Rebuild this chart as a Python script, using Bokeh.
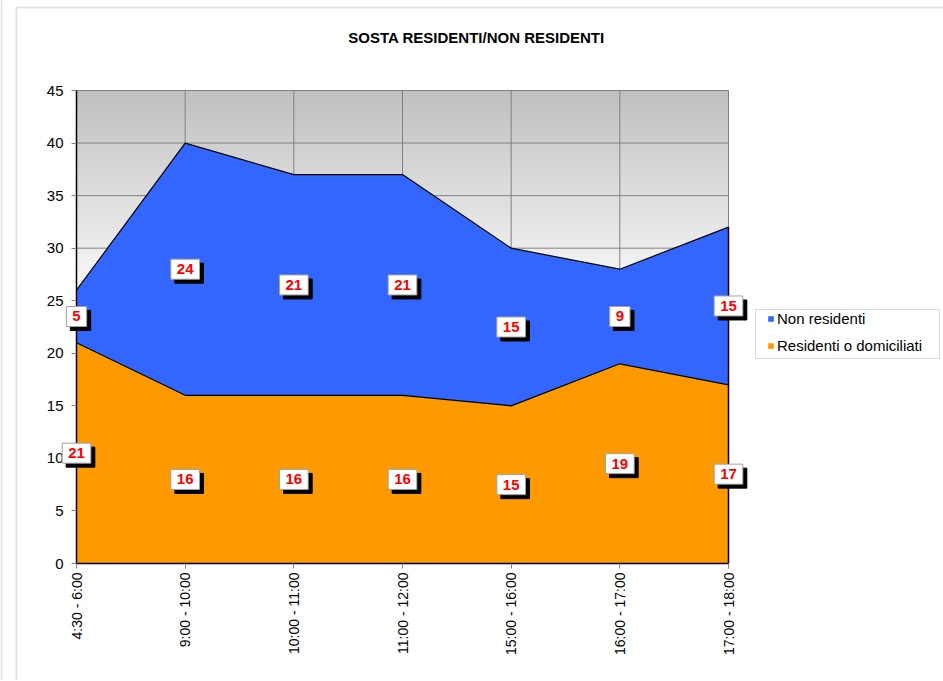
import numpy as np
from bokeh.plotting import figure
from bokeh.models import (ColumnDataSource, FixedTicker, Label, Legend,
                          LegendItem, Range1d, BoxAnnotation)
from bokeh.embed import file_html
from bokeh.resources import INLINE

categories = ["4:30 - 6:00", "9:00 - 10:00", "10:00 - 11:00", "11:00 - 12:00",
              "15:00 - 16:00", "16:00 - 17:00", "17:00 - 18:00"]
residenti = [21, 16, 16, 16, 15, 19, 17]
non_residenti = [5, 24, 21, 21, 15, 9, 15]
y_ticks = [0, 5, 10, 15, 20, 25, 30, 35, 40, 45]

ORANGE = "#FF9900"
BLUE = "#3366FF"
FONT = "Liberation Sans"

# ---- layout (pixels) ----
W, H = 943, 680
PX0, PX1 = 76, 728      # plot area left/right on canvas
PY0, PY1 = 90, 563      # plot area top/bottom on canvas

x = list(range(len(categories)))
totale = [r + n for r, n in zip(residenti, non_residenti)]
src = ColumnDataSource(dict(x=x, res=residenti, non=non_residenti, tot=totale))

ppx = (PX1 - PX0) / (x[-1] - x[0])
ppy = (PY1 - PY0) / (y_ticks[-1] - y_ticks[0])
xr = Range1d(x[0] - PX0 / ppx, x[-1] + (W - PX1) / ppx)
yr = Range1d(y_ticks[0] - (H - PY1) / ppy, y_ticks[-1] + PY0 / ppy)

p = figure(width=W, height=H, x_range=xr, y_range=yr, title=None,
           output_backend="svg", toolbar_location=None, min_border=0)
p.background_fill_color = "white"
p.border_fill_color = "white"
p.outline_line_color = None
p.xgrid.visible = False
p.ygrid.visible = False

# gradient background (grey at top, fading to white)
N = 450
ys = (np.arange(N) + 0.5) * y_ticks[-1] / N
g = np.clip(192 + (y_ticks[-1] - ys) * (63 / 21.0), 0, 255).astype(np.uint8)
img = np.zeros((N, 1), dtype=np.uint32)
v = img.view(dtype=np.uint8).reshape((N, 1, 4))
v[:, 0, 0] = g
v[:, 0, 1] = g
v[:, 0, 2] = g
v[:, 0, 3] = 255
p.image_rgba(image=[img], x=x[0], y=y_ticks[0], dw=x[-1] - x[0],
             dh=y_ticks[-1] - y_ticks[0], level="image")

# grid lines limited to the plot area
GRID = "#808080"
p.segment(x0=[x[0]] * len(y_ticks), x1=[x[-1]] * len(y_ticks), y0=y_ticks, y1=y_ticks,
          line_color=GRID, line_width=1)
p.segment(x0=x, x1=x, y0=[y_ticks[0]] * len(x), y1=[y_ticks[-1]] * len(x),
          line_color=GRID, line_width=1)

areas = p.varea_stack(["res", "non"], x="x", color=[ORANGE, BLUE], source=src)
p.line("x", "res", source=src, line_color="black", line_width=1.2)
p.line("x", "tot", source=src, line_color="black", line_width=1.2)
p.segment(x0=[x[-1]], y0=[0], x1=[x[-1]], y1=[totale[-1]], line_color="black", line_width=1.5)

# axes (fixed at the plot area's edges)
p.xaxis.fixed_location = y_ticks[0]
p.yaxis.fixed_location = x[0]
p.xaxis.bounds = (x[0], x[-1])
p.yaxis.bounds = (y_ticks[0], y_ticks[-1])
p.xaxis.ticker = FixedTicker(ticks=x)
p.xaxis.major_label_overrides = {i: c for i, c in zip(x, categories)}
p.xaxis.major_label_orientation = np.pi / 2
p.yaxis.ticker = FixedTicker(ticks=y_ticks)
for ax in (p.xaxis[0], p.yaxis[0]):
    ax.axis_line_color = "black"
    ax.axis_line_width = 1.5
    ax.major_tick_line_color = "#808080"
    ax.major_tick_out = 5
    ax.major_tick_in = 0
    ax.minor_tick_line_color = None
    ax.major_label_text_font = FONT
    ax.major_label_text_color = "black"
p.xaxis.major_label_text_font_size = "14px"
p.yaxis.major_label_text_font_size = "15px"
p.xaxis.major_label_standoff = 4
p.yaxis.major_label_standoff = 8

# data labels with shadow
pad = dict(left=6, right=6, top=5, bottom=5)
def add_label(xv, yv, txt):
    common = dict(x=xv, y=yv, text=txt, text_align="center", text_baseline="middle",
                  text_font=FONT, text_font_size="15px", text_font_style="bold",
                  padding=pad)
    p.add_layout(Label(x_offset=4, y_offset=-4, text_color="black",
                       background_fill_color="black", border_line_color="black", **common))
    p.add_layout(Label(text_color="#FF0000", background_fill_color="white",
                       border_line_color="#A0A0A0", **common))

for i in x:
    add_label(x[i], residenti[i] / 2, str(residenti[i]))
    add_label(x[i], residenti[i] + non_residenti[i] / 2, str(non_residenti[i]))

# title
p.add_layout(Label(x=476, y=H - 37, x_units="screen", y_units="screen",
                   text="SOSTA RESIDENTI/NON RESIDENTI", text_align="center",
                   text_baseline="middle", text_font=FONT, text_font_size="15px",
                   text_font_style="bold", text_color="black"))

# chart frame lines
p.add_layout(BoxAnnotation(left=16, right=W + 50, bottom=-50, top=H - 7,
                           left_units="screen", right_units="screen",
                           bottom_units="screen", top_units="screen",
                           fill_color=None, fill_alpha=0, line_color="#A6A6A6", line_width=2))
p.add_layout(BoxAnnotation(left=-50, right=1, bottom=-50, top=H + 50,
                           left_units="screen", right_units="screen",
                           bottom_units="screen", top_units="screen",
                           fill_color=None, fill_alpha=0, line_color="#A6A6A6", line_width=2))

# legend
p.add_layout(BoxAnnotation(left=755, right=939, bottom=H - 358, top=H - 309,
                           left_units="screen", right_units="screen",
                           bottom_units="screen", top_units="screen",
                           fill_color="white", fill_alpha=1.0, line_color="#808080",
                           line_width=1))
legend = Legend(items=[LegendItem(label="Non residenti", renderers=[areas[1]]),
                       LegendItem(label="Residenti o domiciliati", renderers=[areas[0]])],
                location=(767, H - 353.5), border_line_color=None, background_fill_alpha=0,
                label_text_font=FONT, label_text_font_size="15px", label_text_color="black",
                glyph_width=7, glyph_height=7, label_standoff=3, spacing=10,
                label_height=17, padding=4, margin=0)
p.add_layout(legend)

open("out.html", "w").write(file_html(p, INLINE))
